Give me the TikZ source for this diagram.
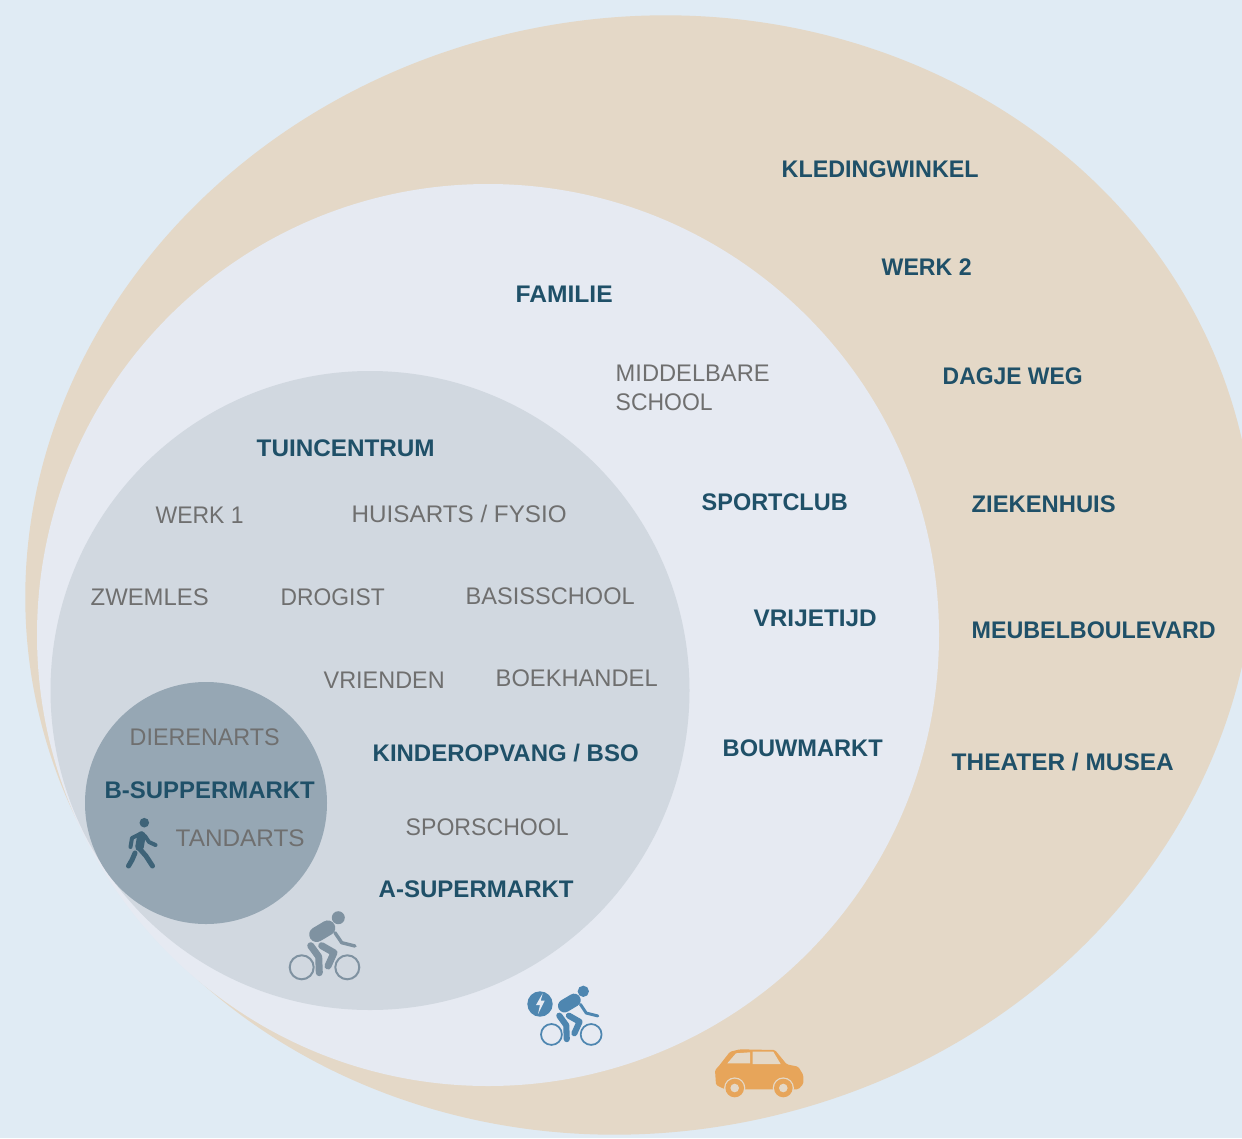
\documentclass[tikz,border=0pt]{standalone}
\usepackage{graphicx}
\usepackage{fontspec}
\setmainfont{Liberation Sans}
\definecolor{bgc}{HTML}{E0EBF4}
\definecolor{beigec}{HTML}{E4D8C7}
\definecolor{lavc}{HTML}{E6EAF2}
\definecolor{grayc}{HTML}{D1D8E0}
\definecolor{slatec}{HTML}{96A7B4}
\definecolor{boldc}{HTML}{1F5068}
\definecolor{plainc}{HTML}{6F6F6F}
\definecolor{walkc}{HTML}{3E6378}
\definecolor{bikegray}{HTML}{7F92A1}
\definecolor{bikeblue}{HTML}{4E86B0}
\definecolor{carc}{HTML}{E7A55A}
\newcommand{\fitw}[2]{\resizebox{#1pt}{\height}{#2}}
\newcommand{\cyclistat}[4]{%
  \begin{scope}[shift={(#1,#2)},scale=#3,#4,line cap=round,line join=round]
    \fill (0,0) circle (6.5);
    \draw[line width=#3*15pt] (-21.6,16.8) -- (-10.5,10.2);
    \draw[line width=#3*3.4pt] (-3.3,15) -- (3.4,25) -- (16.7,28.3);
    \draw[line width=#3*7pt] (-27.6,28) -- (-19.6,39) -- (-19,55);
    \draw[line width=#3*7pt] (-16.6,28) -- (-4.3,35) -- (-10.3,48.3);
    \draw[line width=#3*2pt] (-36.6,49.6) circle (12);
    \draw[line width=#3*2pt] (9,49.6) circle (12);
  \end{scope}}
\tikzset{
  x=1pt,y=-1pt,
  boldlab/.style={anchor=base west,inner sep=0pt,xshift=-0.5pt,yshift=0.7pt,text=boldc,font=\bfseries\fontsize{24}{29}\selectfont},
  plainlab/.style={anchor=base west,inner sep=0pt,xshift=-0.5pt,yshift=0.7pt,text=plainc,font=\fontsize{24}{29}\selectfont},
}
\begin{document}
\begin{tikzpicture}
\useasboundingbox (0,0) rectangle (1242,1138);
\fill[bgc] (0,0) rectangle (1242,1138);
\begin{scope}
  \clip (0,0) rectangle (1242,1138);
  \fill[beigec,shift={(640,575)},rotate=11.7] (0,0) ellipse [x radius=617pt,y radius=557pt];
\end{scope}
\fill[lavc] (488,635) circle (451);
\fill[grayc] (370,690.5) circle (319.5);
\fill[slatec] (206,803) circle (121);

% labels
\node[boldlab] (kleding) at (782,178) {\fitw{197}{KLEDINGWINKEL}};
\node[boldlab] (werk2) at (882,276) {\fitw{90}{WERK 2}};
\node[boldlab] (familie) at (516,303) {\fitw{97}{FAMILIE}};
\node[boldlab] (dagje) at (943,385) {\fitw{140}{DAGJE WEG}};
\node[boldlab] (tuin) at (257,457) {\fitw{178}{TUINCENTRUM}};
\node[boldlab] (sport) at (702,511) {\fitw{146}{SPORTCLUB}};
\node[boldlab] (zieken) at (972,513) {\fitw{144}{ZIEKENHUIS}};
\node[boldlab] (vrije) at (754,627) {\fitw{123}{VRIJETIJD}};
\node[boldlab] (meubel) at (972,639) {\fitw{244}{MEUBELBOULEVARD}};
\node[boldlab] (bouw) at (723,757) {\fitw{160}{BOUWMARKT}};
\node[boldlab] (theater) at (952,771) {\fitw{222}{THEATER / MUSEA}};
\node[boldlab] (kinder) at (373,762) {\fitw{266}{KINDEROPVANG / BSO}};
\node[boldlab] (bsuper) at (105,799) {\fitw{210}{B-SUPPERMARKT}};
\node[boldlab] (asuper) at (379,898) {\fitw{195}{A-SUPERMARKT}};

\node[plainlab] (middel) at (616,382) {\fitw{154}{MIDDELBARE}};
\node[plainlab] (school) at (616,411) {\fitw{97}{SCHOOL}};
\node[plainlab] (werk1) at (156,524) {\fitw{88}{WERK 1}};
\node[plainlab] (huis) at (352,523) {\fitw{215}{HUISARTS / FYSIO}};
\node[plainlab] (zwem) at (91,606) {\fitw{118}{ZWEMLES}};
\node[plainlab] (drogist) at (281,606) {\fitw{104}{DROGIST}};
\node[plainlab] (basis) at (466,605) {\fitw{169}{BASISSCHOOL}};
\node[plainlab] (vrienden) at (324,689) {\fitw{121}{VRIENDEN}};
\node[plainlab] (boek) at (496,687) {\fitw{162}{BOEKHANDEL}};
\node[plainlab] (dieren) at (130,746) {\fitw{150}{DIERENARTS}};
\node[plainlab] (tand) at (176,847) {\fitw{129}{TANDARTS}};
\node[plainlab] (sporsch) at (406,836) {\fitw{163}{SPORSCHOOL}};

% walker
\begin{scope}[walkc,line cap=round,line join=round]
  \fill (144.3,822.7) circle (4.8);
  \draw[line width=8.5pt] (141.5,835.5) -- (139.5,847);
  \draw[line width=4pt] (141,833.5) -- (132,838) -- (130.5,847);
  \draw[line width=4pt] (145,836) -- (149,842) -- (155.5,845);
  \draw[line width=5pt] (139,848) -- (146,856) -- (152.5,866);
  \draw[line width=5pt] (135,853) -- (132,860) -- (128.5,866);
\end{scope}

% cyclists
\cyclistat{338.3}{917.7}{1}{bikegray,draw=bikegray,fill=bikegray}
\cyclistat{583.3}{991.3}{0.87}{bikeblue,draw=bikeblue,fill=bikeblue}
\fill[bikeblue] (540,1004) circle (12.7);
\fill[lavc] (542.7,993.3) -- (536,1005) -- (540,1005) -- (538,1014) -- (544.7,1000.7) -- (540.7,1000.7) -- cycle;

% car
\fill[carc,rounded corners=1.5pt] (716,1085) -- (715,1070) -- (718.3,1066.7) -- (730,1051.7) -- (740,1049.3) -- (775,1050) -- (786.7,1064.3) -- (798.3,1066.7) -- (803.3,1075) -- (803.3,1084) -- (798.3,1089.3) -- (725,1089.3) -- cycle;
\fill[beigec] (727.3,1063.3) -- (736,1053.3) -- (750,1052.3) -- (750,1063.3) -- cycle;
\fill[beigec] (752.7,1051.7) -- (773.3,1051.7) -- (780.7,1064) -- (752.7,1064) -- cycle;
\foreach \wx in {734.7,783.3}{
  \fill[beigec] (\wx,1088) circle (10.6);
  \fill[carc] (\wx,1088) circle (9.3);
  \fill[beigec] (\wx,1088) circle (4.3);
}
\end{tikzpicture}
\end{document}
